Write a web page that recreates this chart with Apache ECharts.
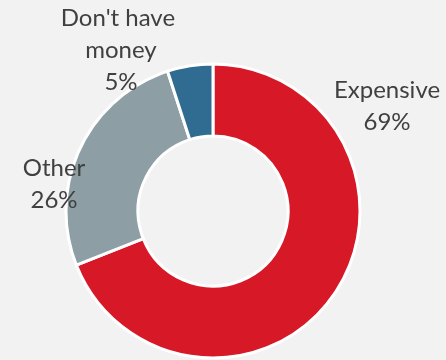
<!DOCTYPE html>
<html>
<head>
<meta charset="utf-8">
<style>
  html, body { margin: 0; padding: 0; background: #F2F2F2; }
  #chart { width: 446px; height: 360px; }
</style>
<script src="https://cdn.jsdelivr.net/npm/echarts@6/dist/echarts.min.js"></script>
</head>
<body>
<div id="chart"></div>
<script>
// Reasons for not buying, share of respondents (%)
const categories = ['Expensive', 'Other', "Don't have money"];
const shares = [69, 26, 5];
const colors = ['#D71827', '#8D9EA5', '#306B91'];

// Label anchor points (centre of each label block) for the outside labels
const labelAnchors = [
  { x: 387, y: 106 },
  { x: 54, y: 184 },
  { x: 121, y: 50 }
];

const chart = echarts.init(document.getElementById('chart'), null, { renderer: 'canvas' });

chart.setOption({
  backgroundColor: '#F2F2F2',
  animation: false,
  series: [{
    type: 'pie',
    center: [213, 211],
    radius: [75, 147],
    startAngle: 90,
    clockwise: true,
    avoidLabelOverlap: false,
    itemStyle: { borderColor: '#FFFFFF', borderWidth: 3 },
    label: {
      show: true,
      position: 'outside',
      formatter: '{b}\n{d}%',
      fontFamily: 'Lato',
      fontSize: 24,
      lineHeight: 32,
      color: '#404040',
      align: 'center',
      width: 130,
      overflow: 'break'
    },
    labelLine: { show: false },
    labelLayout: function (params) {
      const a = labelAnchors[params.dataIndex];
      return { x: a.x, y: a.y, align: 'center', verticalAlign: 'middle' };
    },
    data: categories.map((name, i) => ({
      name: name,
      value: shares[i],
      itemStyle: { color: colors[i] }
    }))
  }]
});
</script>
</body>
</html>
